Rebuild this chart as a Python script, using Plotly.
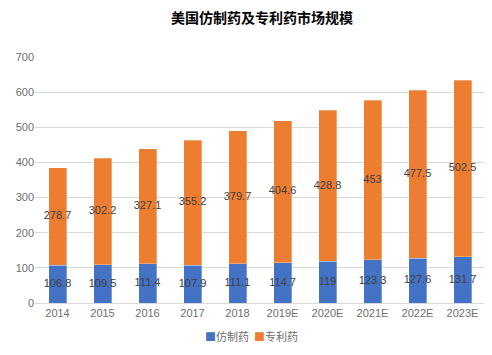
import plotly.graph_objects as go

categories = ["2014", "2015", "2016", "2017", "2018", "2019E", "2020E", "2021E", "2022E", "2023E"]
generic = [106.8, 109.5, 111.4, 107.9, 111.1, 114.7, 119, 123.3, 127.6, 131.7]
patent = [278.7, 302.2, 327.1, 355.2, 379.7, 404.6, 428.8, 453, 477.5, 502.5]
y_ticks = [0, 100, 200, 300, 400, 500, 600, 700]

cjk = "Noto Sans CJK SC, sans-serif"
latin = "Liberation Sans, Arial, sans-serif"
label_font = dict(family=latin, size=11, color="#404040")
tick_color = "#6E6E6E"

fig = go.Figure()
fig.add_trace(go.Bar(
    x=categories, y=generic, name="仿制药",
    marker=dict(color="#4472C4", line=dict(color="rgba(255,255,255,0.6)", width=0.5)),
    showlegend=False,
))
fig.add_trace(go.Bar(
    x=categories, y=patent, name="专利药",
    marker=dict(color="#ED7D31", line=dict(color="rgba(255,255,255,0.6)", width=0.5)),
    showlegend=False,
))
# data labels centred in each segment
fig.add_trace(go.Scatter(
    x=categories, y=[g / 2 for g in generic], mode="text",
    text=[str(v) for v in generic], textfont=label_font, textposition="middle center",
    showlegend=False, hoverinfo="skip",
))
fig.add_trace(go.Scatter(
    x=categories, y=[g + p / 2 for g, p in zip(generic, patent)], mode="text",
    text=[str(v) for v in patent], textfont=label_font, textposition="middle center",
    showlegend=False, hoverinfo="skip",
))

fig.update_layout(
    barmode="stack",
    bargap=0.6,
    width=484, height=347,
    margin=dict(l=27, r=7, t=49, b=52),
    paper_bgcolor="white", plot_bgcolor="white",
    font=dict(family=cjk, color=tick_color),
    title=dict(text="<b>美国仿制药及专利药市场规模</b>", x=0.525, xanchor="center", y=1 - 10 / 347, yanchor="middle",
               font=dict(family=cjk, size=14, color="#000000")),
    showlegend=False,
    annotations=[dict(
        xref="paper", yref="paper", x=0.48, y=-0.134, xanchor="center", yanchor="middle",
        text="<span style='color:#4472C4'>■</span>仿制药  <span style='color:#ED7D31'>■</span>专利药",
        showarrow=False, font=dict(family=cjk, size=11, color=tick_color),
    )],
)
fig.update_xaxes(showgrid=False, showline=True, linecolor="#D9D9D9", linewidth=1,
                 ticks="", tickfont=dict(family=latin, size=11, color=tick_color))
fig.update_yaxes(range=[0, 700], tickvals=y_ticks, showgrid=True, gridcolor="#D9D9D9", gridwidth=1,
                 zeroline=False, showline=False, ticks="",
                 tickfont=dict(family=latin, size=11, color=tick_color))

fig.write_html("out.html")
